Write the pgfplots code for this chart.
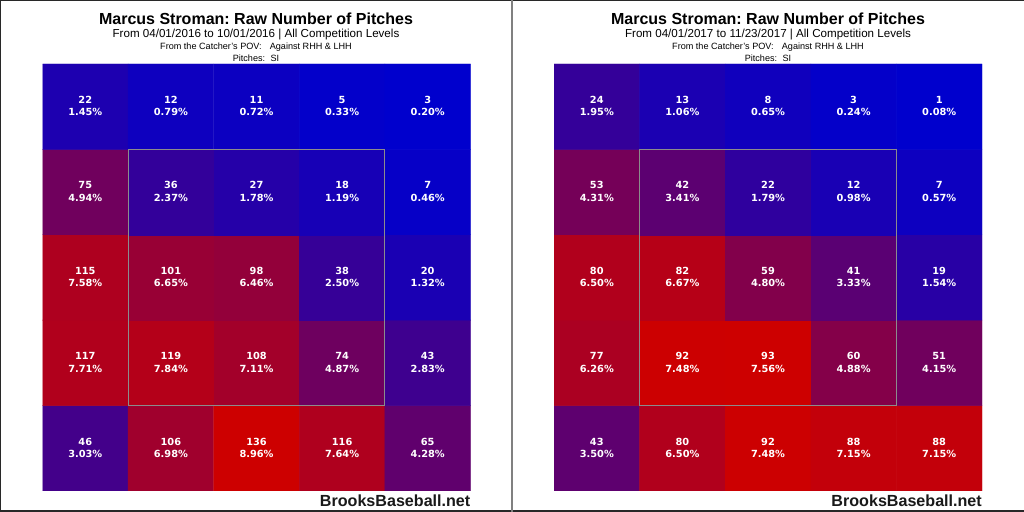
\documentclass[border=0pt]{standalone}
\usepackage{pgfplots}
\pgfplotsset{compat=1.18}
\usepackage{pgfplotstable}
\usepackage{fontspec}
\setmainfont{Liberation Sans}
\newfontfamily\cellfont{DejaVu Sans}
\frenchspacing

% 2016 data: x = column (0 left), y = row (0 bottom)
\pgfplotstableread{
x y c p
0 0 46 3.03
1 0 106 6.98
2 0 136 8.96
3 0 116 7.64
4 0 65 4.28
0 1 117 7.71
1 1 119 7.84
2 1 108 7.11
3 1 74 4.87
4 1 43 2.83
0 2 115 7.58
1 2 101 6.65
2 2 98 6.46
3 2 38 2.50
4 2 20 1.32
0 3 75 4.94
1 3 36 2.37
2 3 27 1.78
3 3 18 1.19
4 3 7 0.46
0 4 22 1.45
1 4 12 0.79
2 4 11 0.72
3 4 5 0.33
4 4 3 0.20
}\dataA

% 2017 data
\pgfplotstableread{
x y c p
0 0 43 3.50
1 0 80 6.50
2 0 92 7.48
3 0 88 7.15
4 0 88 7.15
0 1 77 6.26
1 1 92 7.48
2 1 93 7.56
3 1 60 4.88
4 1 51 4.15
0 2 80 6.50
1 2 82 6.67
2 2 59 4.80
3 2 41 3.33
4 2 19 1.54
0 3 53 4.31
1 3 42 3.41
2 3 22 1.79
3 3 12 0.98
4 3 7 0.57
0 4 24 1.95
1 4 13 1.06
2 4 8 0.65
3 4 3 0.24
4 4 1 0.08
}\dataB

\pgfplotsset{
  heat/.style={
    width=428bp, height=427bp, scale only axis, hide axis,
    xmin=-0.5, xmax=4.5, ymin=-0.5, ymax=4.5,
    colormap={br}{rgb255=(0,0,205) rgb255=(205,0,0)},
    anchor=south west,
  },
  celltxt/.style={
    only marks, mark=*, mark size=0pt, mark options={draw=none, fill=none},
    point meta=explicit symbolic,
    every node near coord/.append style={anchor=base, inner sep=0pt, text=white,
      font=\cellfont\fontsize{9.8bp}{12bp}\selectfont\bfseries},
  },
}

\definecolor{szgray}{RGB}{140,140,140}
\definecolor{frame}{RGB}{40,40,40}

\newcommand{\panel}[4]{%
  % #1 data, #2 x of heatmap left, #3 center x, #4 date line
  \begin{axis}[heat, at={(#2 bp,21bp)}]
    \addplot[matrix plot*, mesh/cols=5, point meta=explicit] table[meta=c] {#1};
    \addplot[celltxt, nodes near coords={\pgfplotspointmeta},
      every node near coord/.append style={yshift=3.2bp}] table[meta=c] {#1};
    \addplot[celltxt, nodes near coords={\pgfplotspointmeta\%},
      every node near coord/.append style={yshift=-9.2bp}] table[meta=p] {#1};
    \draw[szgray, line width=1bp] (axis cs:0.5,0.5) rectangle (axis cs:3.5,3.5);
  \end{axis}
  \node[anchor=base, inner sep=0pt, font=\fontsize{16bp}{18bp}\selectfont\bfseries] at (#3,487) {Marcus Stroman: Raw Number of Pitches};
  \node[anchor=base, inner sep=0pt, font=\fontsize{11.6bp}{13bp}\selectfont] at (#3,474.3) {#4 | All Competition Levels};
  \node[anchor=base, inner sep=0pt, font=\fontsize{9.1bp}{10bp}\selectfont] at (#3,462) {From the Catcher's POV:\hspace{0.9em}Against RHH \& LHH};
  \node[anchor=base, inner sep=0pt, font=\fontsize{9.1bp}{10bp}\selectfont] at (#3,450.7) {Pitches:\hspace{0.6em}SI};
  \node[anchor=base east, inner sep=0pt, text=black!90, font=\fontsize{16.1bp}{18bp}\selectfont\bfseries] at (#2+428,5) {BrooksBaseball.net};
}

\begin{document}
\begin{tikzpicture}[x=1bp, y=1bp]
  \useasboundingbox (0,0) rectangle (1024,512);
  \fill[white] (0,0) rectangle (1024,512);
  \panel{\dataA}{42.5}{256}{From 04/01/2016 to 10/01/2016}
  \panel{\dataB}{554}{768}{From 04/01/2017 to 11/23/2017}
  \draw[frame, line width=1.5bp] (0.75,0) -- (0.75,511.25) -- (1024,511.25);
  \draw[frame, line width=2bp] (0,1) -- (1024,1);
  \draw[gray, line width=2bp] (511.5,0) -- (511.5,512);
\end{tikzpicture}
\end{document}
